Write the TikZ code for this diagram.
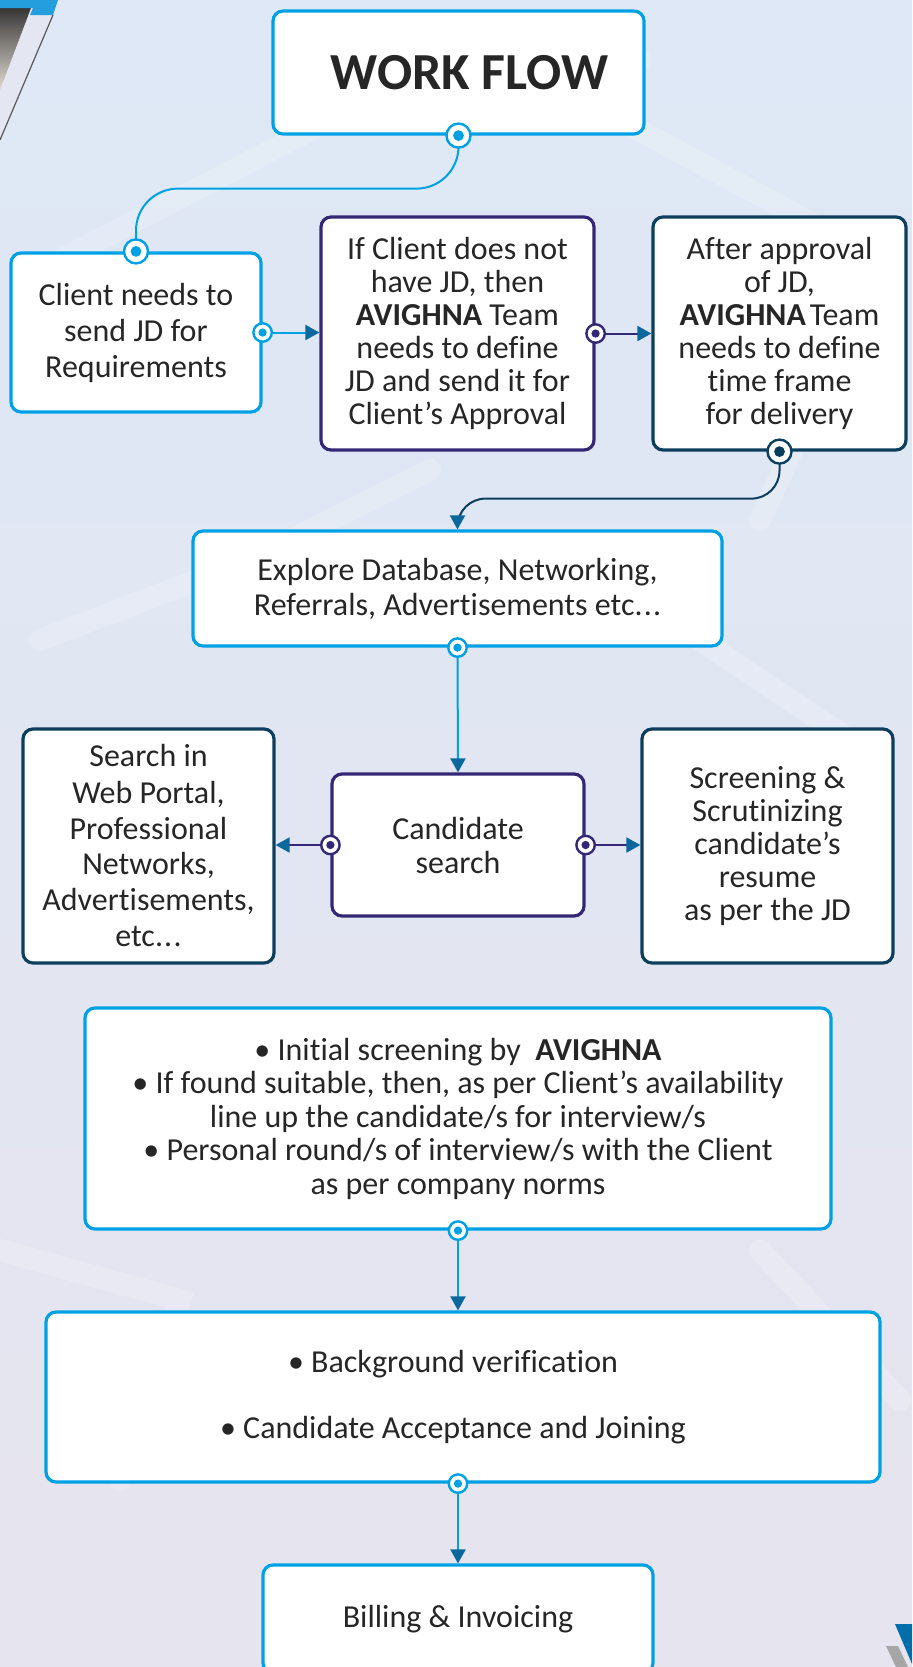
\documentclass[tikz,border=0pt]{standalone}
\usepackage{fontspec}
\setmainfont{Carlito}[Ligatures={NoCommon}]
\usetikzlibrary{arrows.meta}
\definecolor{lblue}{RGB}{0,161,228}
\definecolor{dpurple}{RGB}{52,40,118}
\definecolor{dnavy}{RGB}{12,62,94}
\definecolor{tipblue}{RGB}{10,104,156}
\definecolor{txt}{RGB}{38,38,38}
\definecolor{bgtop}{RGB}{222,232,246}
\definecolor{bgmid}{RGB}{228,248,252}
\definecolor{bgbot}{RGB}{230,228,238}
\definecolor{band}{RGB}{228,230,242}
\definecolor{photo}{RGB}{226,218,210}
\definecolor{barblue}{RGB}{36,158,220}
\definecolor{logoblue}{RGB}{0,110,170}
\newcommand{\connpt}[3][4.6pt]{%
  \draw[#3, line width=1.2pt, fill=white] (#2) circle (#1);
  \fill[#3] (#2) circle ({0.45*#1});}
\newcommand{\etcdots}{etc.\kern0.6pt.\kern0.6pt.}
\tikzset{
  box/.style={draw, fill=white, rounded corners=5pt, line width=1.6pt,
    align=center, text=txt, font=\fontsize{16}{16.5}\selectfont},
  link/.style={line width=1pt},
  tip/.style={-{Triangle[length=7pt,width=7.5pt,color=tipblue]}},
  haze/.style={white, opacity=0.18, line width=11pt, line cap=round}
}
\begin{document}
\begin{tikzpicture}[x=0.5pt,y=-0.5pt]
\useasboundingbox (0,0) rectangle (912,1667);
% background
\shade[top color=bgtop, middle color=bgmid, bottom color=bgbot] (0,0) rectangle (912,1667);
\draw[haze] (60,260) -- (330,120) -- (640,60);
\draw[haze] (620,120) -- (880,260) -- (760,520);
\draw[haze] (40,640) -- (250,560) -- (430,470);
\draw[haze] (700,640) -- (880,760);
\draw[haze] (0,1250) -- (180,1300) -- (120,1480);
\draw[haze] (760,1250) -- (900,1400);
% corner decorations
\fill[band] (0,0) -- (58,0) -- (0,140) -- cycle;
\shade[top color=black!85, bottom color=photo] (0,0) -- (34,0) -- (0,90) -- cycle;
\fill[barblue] (0,0) -- (58,0) -- (53,15) -- (30,15) -- (33,8) -- (0,8) -- cycle;
\draw[black!65, line width=0.6pt] (53,15) -- (0,140);
\fill[logoblue] (895,1624) -- (912,1624) -- (912,1664) -- cycle;
\fill[gray!70] (886,1646) -- (898,1646) -- (908,1667) -- (896,1667) -- cycle;

% boxes
\node[box, draw=lblue, minimum width=185.5pt, minimum height=61.5pt] (title) at (458.5,72.5)
  {\hspace*{11pt}\fontsize{26}{30}\selectfont\bfseries WORK FLOW};
\node[box, draw=lblue, minimum width=125pt, minimum height=79.5pt, font=\fontsize{16}{18}\selectfont] (client) at (136,332.5)
  {Client needs to\\send JD for\\Requirements};
\node[box, draw=dpurple, minimum width=136.5pt, minimum height=116.5pt] (define) at (457.5,333.5)
  {If Client does not\\have JD, then\\\textbf{AVIGHNA} Team\\needs to define\\JD and send it for\\Client’s Approval};
\node[box, draw=dnavy, minimum width=126.5pt, minimum height=116.5pt] (approval) at (779.5,333.5)
  {After approval\\of JD,\\\textbf{AVIGHNA}\hspace{0.12em}Team\\needs to define\\time frame\\for delivery};
\node[box, draw=lblue, minimum width=264.5pt, minimum height=57.5pt, font=\fontsize{16}{17.5}\selectfont] (explore) at (457.5,588.5)
  {Explore Database, Networking,\\Referrals, Advertisements \etcdots};
\node[box, draw=dpurple, minimum width=126pt, minimum height=71pt, font=\fontsize{16}{17}\selectfont] (search) at (458,845)
  {Candidate\\search};
\node[box, draw=dnavy, minimum width=125.5pt, minimum height=117pt, font=\fontsize{16}{18}\selectfont] (portal) at (148.5,846)
  {Search in\\Web Portal,\\Professional\\Networks,\\Advertisements,\\\etcdots};
\node[box, draw=dnavy, minimum width=125.5pt, minimum height=117pt] (screen) at (767.5,846)
  {Screening \&\\Scrutinizing\\candidate’s\\resume\\as per the JD};
\node[box, draw=lblue, minimum width=373pt, minimum height=110.5pt, font=\fontsize{16}{16.75}\selectfont] (initial) at (458,1118.5)
  {\textbullet\ Initial screening by \ \textbf{AVIGHNA}\\
   \textbullet\ If found suitable, then, as per Client’s availability\\
   line up the candidate/s for interview/s\\
   \textbullet\ Personal round/s of interview/s with the Client\\
   as per company norms};
\node[box, draw=lblue, minimum width=417pt, minimum height=85pt] (verify) at (463,1397)
  {\hspace*{-10pt}\textbullet\ Background verification\\[16.5pt]\hspace*{-10pt}\textbullet\ Candidate Acceptance and Joining};
\node[box, draw=lblue, minimum width=195pt, minimum height=54pt] (billing) at (458,1619)
  {Billing \& Invoicing};

% connectors
\draw[link, lblue, rounded corners=21pt] (title.south) -- ++(0,53) -| (client.north);
\draw[link, lblue, tip] (client.east) -- (client.east -| define.west);
\draw[link, dpurple, tip] (define.east) -- (define.east -| approval.west);
\draw[link, dnavy, tip, rounded corners=14pt] (approval.south) -- ++(0,47) -| (explore.north);
\draw[link, lblue, tip] (explore.south) -- (search.north);
\draw[link, dpurple, tip] (search.west) -- (search.west -| portal.east);
\draw[link, dpurple, tip] (search.east) -- (search.east -| screen.west);
\draw[link, lblue, tip] (initial.south) -- (initial.south |- verify.north);
\coordinate (vb) at (verify.south -| billing.north);
\draw[link, lblue, tip] (vb) -- (billing.north);

% connection points
\connpt[6pt]{title.south}{lblue}
\connpt[6pt]{client.north}{lblue}
\connpt{client.east}{lblue}
\connpt{define.east}{dpurple}
\connpt[6pt]{approval.south}{dnavy}
\connpt{explore.south}{lblue}
\connpt{search.west}{dpurple}
\connpt{search.east}{dpurple}
\connpt{initial.south}{lblue}
\connpt{vb}{lblue}
\end{tikzpicture}
\end{document}
